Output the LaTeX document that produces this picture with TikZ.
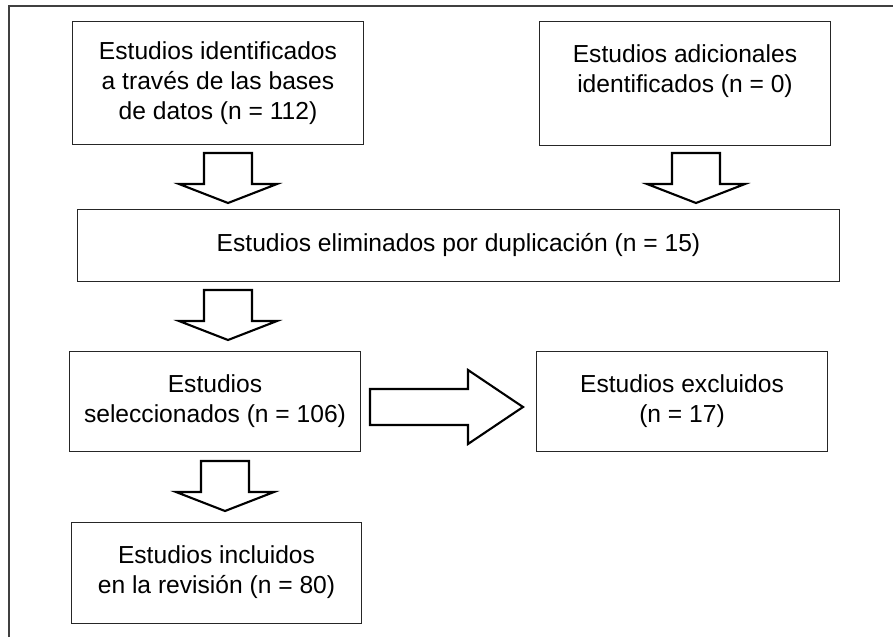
\documentclass[tikz,border=0pt]{standalone}
\usepackage{fontspec}
\setmainfont{Liberation Sans}
\usepackage{tikz}
\usetikzlibrary{positioning, calc}
\tikzset{box/.style={rectangle,draw=black!85,line width=0.7pt,align=center,inner sep=0pt,minimum width=7.25cm,
                     font=\fontsize{17.5}{21.3}\selectfont},
         fatarrow/.style={draw=black,fill=white,line width=1.5pt,line join=miter},
         frame/.style={draw=black!75,line width=1.1pt},
         pics/downarrow/.style={code={
           \draw[fatarrow] (0,0) -- (-49,-19) -- (-24,-19) -- (-24,-50) -- (24,-50) -- (24,-19) -- (49,-19) -- cycle;}},
         pics/rightarrow/.style={code={
           \draw[fatarrow] (0,0) -- (-55,-37) -- (-55,-18) -- (-153,-18) -- (-153,18) -- (-55,18) -- (-55,37) -- cycle;}}}
\begin{document}
\begin{tikzpicture}[x=0.025cm,y=-0.025cm]
    \useasboundingbox (0,0) rectangle (893,637);
    % Frame
    \draw[frame] (9,637) -- (9,6) -- (893,6);
    % Boxes
    \node (ident) at (218,83) [box,minimum height=3.05cm]{Estudios identificados\\a través de las bases\\de datos (n = 112)};
    \node (adic) at (685,83.5) [box,minimum height=3.075cm]{Estudios adicionales\\identificados (n = 0)\\~};
    \node (elim) at (458.5,245) [box,minimum width=19.025cm,minimum height=1.8cm]{Estudios eliminados por duplicación (n = 15)};
    \node (selec) at (215,401.5) [box,minimum height=2.475cm]{Estudios\\seleccionados (n = 106)};
    \node (excl) at (682,401.5) [box,minimum height=2.475cm]{Estudios excluidos\\(n = 17)};
    \node (incl) at (216.5,572.5) [box,minimum width=7.225cm,minimum height=2.525cm]{Estudios incluidos\\en la revisión (n = 80)};
    % Arrows
    \coordinate (tip1) at (228,203);
    \coordinate (tip2) at (696,203);
    \coordinate (tip3) at (228,340);
    \coordinate (tip4) at (225,511);
    \coordinate (tip5) at (523,407);
    \pic at (tip1) {downarrow};
    \pic at (tip2) {downarrow};
    \pic at (tip3) {downarrow};
    \pic at (tip4) {downarrow};
    \pic at (tip5) {rightarrow};
\end{tikzpicture}
\end{document}
